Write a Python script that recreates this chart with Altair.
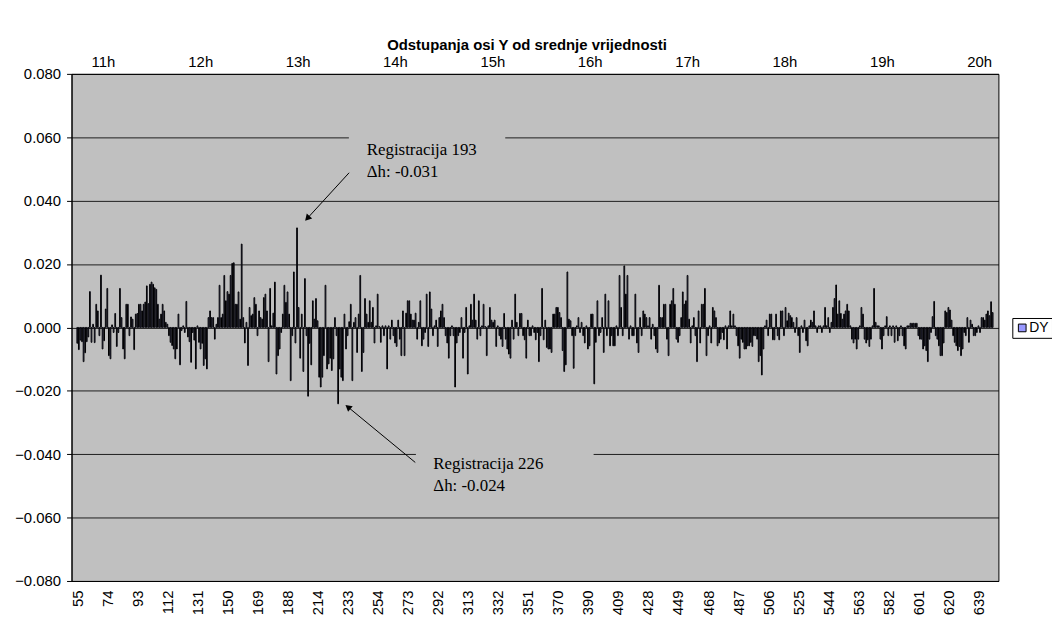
import altair as alt
import pandas as pd

# ---- DY deviations, left to right (one value per registration) ----
dy_a = [-0.0050, -0.0070, -0.0040, -0.0045, -0.0108, -0.0080, -0.0045, -0.0030, 0.0113, -0.0047,
        0.0010, -0.0048, 0.0073, 0.0052, -0.0026, 0.0165, -0.0068, -0.0042, 0.0058, 0.0123,
        -0.0089, -0.0099, 0.0008, -0.0016, 0.0044, -0.0060, -0.0016, 0.0123, 0.0031, -0.0068,
        -0.0099, 0.0073, 0.0073, -0.0026, 0.0033, 0.0026, -0.0070, 0.0042, 0.0044, 0.0073,
        0.0073, 0.0052, 0.0073, 0.0080, 0.0131, 0.0075, 0.0136, 0.0143, 0.0136, 0.0125,
        0.0120, 0.0073, 0.0026, 0.0042, 0.0073, 0.0052, 0.0016, 0.0010, -0.0026, -0.0047,
        -0.0057, -0.0068, -0.0099, -0.0068, 0.0042, -0.0118, -0.0010, 0.0005, -0.0016]
dy_b = [0.0082, -0.0030, -0.0045, -0.0110, -0.0016, -0.0040, -0.0131, 0.0005, -0.0047, -0.0068,
        -0.0050, -0.0120, -0.0099, -0.0131, 0.0031, 0.0052, 0.0031, 0.0031, -0.0037, 0.0010,
        0.0031, 0.0133, 0.0031, 0.0042, 0.0164, 0.0084, 0.0113, 0.0105, 0.0164, 0.0202,
        0.0204, 0.0073, 0.0073, 0.0112, 0.0026, 0.0263, 0.0031, -0.0049, 0.0016, -0.0120,
        0.0063, 0.0037, 0.0042, 0.0094, 0.0073, -0.0026, 0.0052, 0.0031, 0.0026, 0.0094,
        0.0105, 0.0052, -0.0108, 0.0123, 0.0005, 0.0045, 0.0143, -0.0147, -0.0089, -0.0068,
        -0.0016, 0.0042, 0.0133, 0.0079, 0.0112, 0.0042, -0.0168, -0.0026, 0.0175, -0.0049,
        0.0314, 0.0063, -0.0097, 0.0042, -0.0139]
dy_c = [0.0154, -0.0026, -0.0217, -0.0050, -0.0118, 0.0084, 0.0026, 0.0091, 0.0021, -0.0157,
        -0.0188, -0.0157, -0.0089, 0.0133, -0.0131, -0.0115, -0.0097, -0.0136, -0.0099, 0.0031,
        -0.0026, -0.0241, -0.0131, -0.0157, -0.0168, 0.0042, -0.0068, -0.0026, 0.0018, 0.0073,
        -0.0168, 0.0016, 0.0031, -0.0079, 0.0042, 0.0164, -0.0139, -0.0079, 0.0091, 0.0042,
        0.0016, 0.0084, 0.0016, 0.0063, -0.0049, 0.0005, 0.0105, 0.0003, -0.0047, 0.0005,
        -0.0026, 0.0005, -0.0131, 0.0005, -0.0037, 0.0023, -0.0026, -0.0049, -0.0060, 0.0023,
        -0.0037, -0.0089, 0.0052, -0.0089, 0.0045, 0.0084, 0.0084, 0.0042, 0.0023, 0.0023,
        0.0045, -0.0037, 0.0016]
dy_d = [0.0084, -0.0058, -0.0037, -0.0016, 0.0105, -0.0060, 0.0112, 0.0058, -0.0026, 0.0005,
        0.0023, -0.0060, 0.0031, 0.0052, 0.0073, 0.0031, -0.0026, -0.0049, -0.0097, -0.0026,
        0.0005, -0.0026, -0.0188, -0.0049, -0.0026, -0.0016, 0.0031, -0.0097, -0.0016, 0.0063,
        -0.0147, 0.0005, 0.0073, 0.0023, 0.0105, 0.0023, -0.0037, 0.0084, -0.0026, 0.0005,
        0.0073, 0.0003, -0.0089, 0.0005, 0.0063, 0.0023, 0.0016, 0.0023, -0.0060, 0.0005,
        -0.0026, -0.0037, -0.0060, 0.0044, -0.0037, -0.0068, -0.0084, -0.0097, 0.0023, -0.0037,
        0.0105, 0.0016, -0.0026, 0.0044, 0.0044, -0.0026, -0.0039, -0.0097, 0.0023, -0.0026,
        -0.0026, 0.0005, -0.0016]
dy_e = [-0.0039, -0.0016, -0.0108, -0.0026, 0.0123, -0.0039, 0.0023, -0.0063, -0.0068, -0.0068,
        -0.0079, 0.0042, 0.0042, 0.0063, 0.0063, 0.0047, 0.0031, -0.0073, -0.0139, -0.0118,
        0.0175, 0.0026, 0.0021, -0.0026, -0.0129, -0.0026, 0.0005, 0.0031, -0.0016, 0.0016,
        -0.0026, -0.0049, 0.0005, -0.0068, -0.0058, 0.0042, 0.0042, -0.0178, -0.0047, 0.0084,
        -0.0026, -0.0016, 0.0031, -0.0079, 0.0105, -0.0026, 0.0084, -0.0058, -0.0026, -0.0058,
        -0.0058, 0.0005, -0.0026, 0.0164, 0.0063, -0.0026, 0.0194, 0.0105, 0.0164, -0.0037,
        0.0005, -0.0026, -0.0026, 0.0105, -0.0049, -0.0079, 0.0031, -0.0026, 0.0052, 0.0042,
        0.0031, 0.0005, 0.0031]
dy_f = [-0.0037, 0.0010, -0.0026, -0.0068, -0.0079, 0.0133, 0.0031, 0.0031, 0.0073, 0.0073,
        -0.0037, -0.0089, 0.0073, 0.0084, 0.0123, 0.0073, -0.0037, -0.0047, -0.0026, 0.0031,
        0.0112, 0.0073, 0.0084, 0.0164, 0.0026, -0.0049, 0.0005, 0.0031, -0.0026, -0.0108,
        0.0052, -0.0049, 0.0073, 0.0073, 0.0123, -0.0089, -0.0026, 0.0005, -0.0049, 0.0063,
        0.0052, 0.0031, -0.0058, -0.0049, -0.0037, -0.0016, -0.0039, 0.0005, -0.0068, 0.0005,
        0.0052, 0.0005, 0.0042, 0.0005, -0.0026, -0.0058, -0.0097, -0.0037, -0.0047, -0.0068,
        -0.0068, -0.0058, -0.0058, -0.0047, -0.0060, -0.0026, -0.0026, -0.0037, -0.0108, -0.0089,
        -0.0150, -0.0068, 0.0005, 0.0023]
dy_g = [-0.0026, 0.0042, 0.0042, -0.0039, -0.0039, 0.0042, -0.0026, -0.0039, 0.0052, 0.0052,
        -0.0026, 0.0063, 0.0021, 0.0045, 0.0037, 0.0031, 0.0016, -0.0016, 0.0031, -0.0026,
        -0.0079, 0.0005, -0.0016, 0.0023, -0.0042, -0.0058, 0.0005, 0.0023, 0.0016, 0.0052,
        0.0005, -0.0016, 0.0005, 0.0005, -0.0016, 0.0005, 0.0063, 0.0005, 0.0031, -0.0016,
        0.0016, 0.0063, 0.0091, 0.0134, 0.0042, 0.0084, 0.0044, 0.0026, 0.0042, 0.0052,
        0.0073, 0.0052, 0.0005, -0.0037, -0.0049, -0.0037, -0.0068, -0.0037, 0.0005, 0.0063,
        0.0042, -0.0037, -0.0049, -0.0039, -0.0060, -0.0037, 0.0005, 0.0123, 0.0016, 0.0005,
        0.0005, -0.0037]
dy_h = [-0.0068, -0.0026, 0.0005, 0.0034, -0.0026, 0.0005, -0.0026, 0.0005, -0.0047, 0.0005,
        -0.0042, -0.0026, 0.0005, -0.0026, -0.0058, -0.0068, 0.0005, 0.0005, 0.0013, 0.0013,
        0.0013, 0.0013, 0.0013, -0.0026, -0.0037, -0.0037, -0.0068, -0.0058, -0.0073, -0.0108,
        -0.0037, -0.0016, 0.0034, 0.0082, -0.0026, -0.0037, -0.0058, -0.0089, -0.0089, -0.0049,
        0.0052, 0.0047, 0.0063, 0.0055, 0.0023, -0.0026, -0.0047, -0.0058, -0.0073, -0.0060,
        -0.0089, -0.0068, -0.0016, -0.0026, 0.0031, -0.0047, 0.0023, 0.0010, -0.0026, -0.0026,
        -0.0016, 0.0005, -0.0016, 0.0031, 0.0031, 0.0023, 0.0042, 0.0052, 0.0037, 0.0081,
        0.0047]
dy = dy_a + dy_b + dy_c + dy_d + dy_e + dy_f + dy_g + dy_h
n = len(dy)

# ---- axis texts ----
reg_labels = ["55", "74", "93", "112", "131", "150", "169", "188", "214", "233", "254",
              "273", "292", "313", "332", "351", "370", "390", "409", "428", "449", "468",
              "487", "506", "525", "544", "563", "582", "601", "620", "639"]
label_step = 19
hours = [11, 12, 13, 14, 15, 16, 17, 18, 19, 20]
hour_domain = [10.678, 20.197]
y_ticks = [-0.08, -0.06, -0.04, -0.02, 0.0, 0.02, 0.04, 0.06, 0.08]

# ---- annotations (data units: registration index, DY value) ----
note_text = ["Registracija 193\nΔh: -0.031", "Registracija 226\nΔh: -0.024"]
note_idx = [183.1, 225.2]
note_val = [0.0543, -0.0447]
box_idx = [171.8, 214.2]
box_idx2 = [270.7, 326.6]
box_val = [0.046, -0.0531]
box_val2 = [0.0625, -0.0375]
arrow_idx = [171.95, 213.8]
arrow_val = [0.0488, -0.0426]
head_idx = [145.5, 171.2]
head_val = [0.0344, -0.0251]
head_angle = [222.8, 309.1]

FONT = "Liberation Sans"
SERIF = "Liberation Serif"

df = pd.DataFrame({"idx": list(range(n)), "DY": dy, "series": ["DY"] * n})
notes = pd.DataFrame({"idx": note_idx, "DY": note_val, "txt": note_text})
boxes = pd.DataFrame({"idx": box_idx, "idx2": box_idx2, "DY": box_val, "DY2": box_val2})
arrows = pd.DataFrame({"idx": arrow_idx, "DY": arrow_val, "idx2": head_idx, "DY2": head_val})
heads = pd.DataFrame({"idx": head_idx, "DY": head_val, "ang": head_angle})
hdf = pd.DataFrame({"hour": hours})

xs = alt.Scale(domain=[-0.5, n - 0.5], nice=False, zero=False)
ys = alt.Scale(domain=[-0.08, 0.08], nice=False, zero=False)

label_expr = "[" + ",".join("'%s'" % s for s in reg_labels) + "][round(datum.value/%d)]" % label_step

x_enc = alt.X("idx:Q", scale=xs, axis=alt.Axis(
    values=[i * label_step for i in range(len(reg_labels))], labelExpr=label_expr,
    labelAngle=-90, labelFontSize=15, labelFont=FONT, labelColor="black",
    ticks=False, grid=False, title=None, labelPadding=9, domainColor="black",
    labelOverlap=False, labelBound=False, labelFlush=False))
y_enc = alt.Y("DY:Q", scale=ys, axis=alt.Axis(
    values=y_ticks, format=".3f", grid=True, gridColor="black", gridOpacity=0.85,
    title=None, labelFontSize=15, labelFont=FONT, labelColor="black",
    tickSize=5, tickColor="black", domainColor="black", labelPadding=6,
    labelFlush=False, labelBound=False))

bars = alt.Chart(df).mark_bar(orient="vertical", size=0.75, stroke="black", strokeWidth=1).encode(
    x=x_enc, y=y_enc,
    color=alt.Color("series:N", scale=alt.Scale(domain=["DY"], range=["#9999FF"]),
                    legend=alt.Legend(title=None, orient="none", legendX=948, legendY=246,
                                      symbolType="square", symbolSize=60,
                                      symbolStrokeColor="black", symbolStrokeWidth=1,
                                      symbolFillColor="#9999FF",
                                      labelFontSize=14, labelFont=FONT, labelColor="black",
                                      strokeColor="black", fillColor="white", padding=3,
                                      labelOffset=0)),
)

box_layer = alt.Chart(boxes).mark_rect(color="#C0C0C0").encode(
    x=x_enc, x2="idx2:Q", y=y_enc, y2="DY2:Q")

note_layer = alt.Chart(notes).mark_text(
    align="left", baseline="alphabetic", font=SERIF, fontSize=17, lineHeight=21.7,
    lineBreak="\n", color="black").encode(x=x_enc, y=y_enc, text="txt:N")

arrow_lines = alt.Chart(arrows).mark_rule(color="black", strokeWidth=1).encode(
    x=x_enc, x2="idx2:Q", y=y_enc, y2="DY2:Q")

arrow_heads = alt.Chart(heads).mark_point(shape="triangle-up", filled=True, color="black",
                                          size=55, opacity=1).encode(
    x=x_enc, y=y_enc, angle=alt.Angle("ang:Q", scale=None))

main = alt.layer(bars, box_layer, note_layer, arrow_lines, arrow_heads)

hour_layer = alt.Chart(hdf).mark_tick(opacity=0).encode(
    x=alt.X("hour:Q", scale=alt.Scale(domain=hour_domain, nice=False, zero=False),
            axis=alt.Axis(orient="top", values=hours, labelExpr="datum.value + 'h'",
                          ticks=False, domain=False, grid=False, title=None,
                          labelFontSize=15, labelFont=FONT, labelColor="black",
                          labelPadding=4, labelFlush=False, labelBound=False)))

chart = alt.layer(main, hour_layer).resolve_scale(x="independent").properties(
    width=934, height=511,
    padding={"left": 64, "top": 64, "right": 54, "bottom": 44},
    autosize=alt.AutoSizeParams(type="none"),
    title=alt.TitleParams("Odstupanja osi Y od srednje vrijednosti", font=FONT, fontSize=15,
                          fontWeight="bold", color="black", anchor="middle", dx=-8, offset=2),
).configure_view(fill="#C0C0C0", stroke="black", strokeWidth=1)

chart.save("out.html", embed_options={"renderer": "svg", "actions": False})
